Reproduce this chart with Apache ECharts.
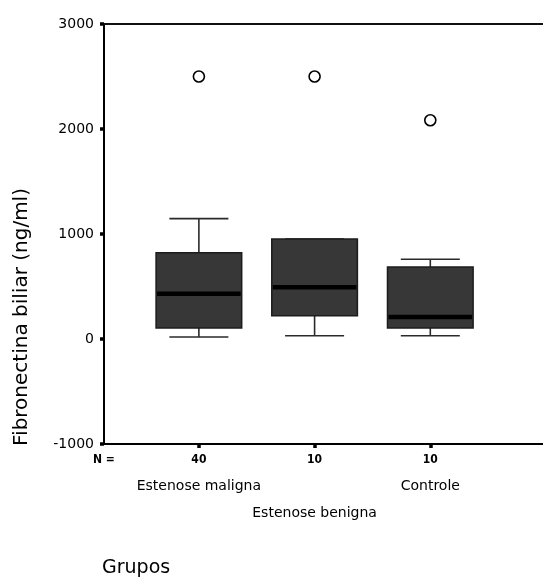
<!DOCTYPE html>
<html><head><meta charset="utf-8">
<script src="https://cdn.jsdelivr.net/npm/echarts@6/dist/echarts.min.js"></script>
<style>html,body{margin:0;padding:0;background:#fff}#c{width:543px;height:578px}</style>
</head><body><div id="c"></div>
<script>
// ---- data ----
const categories = ['Estenose maligna', 'Estenose benigna', 'Controle'];
const groupN = [40, 10, 10];
const boxMin = [19, 31, 31];
const boxQ1 = [105, 222, 105];
const boxMedian = [431, 492, 210];
const boxQ3 = [822, 952, 686];
const boxMax = [1146, 952, 759];
const outlierGroup = [1, 2, 3];
const outlierValue = [2500, 2500, 2083];
const yTicks = [-1000, 0, 1000, 2000, 3000];
const yTitle = 'Fibronectina biliar (ng/ml)';
const xTitle = 'Grupos';
const nPrefix = 'N =';

// ---- chart ----
const FONT = 'DejaVu Sans';
const X_MIN = 0.18, X_MAX = 3.974;
const BOX_W = 0.74, CAP_W = 0.51;

const boxData = categories.map((c, i) => [i + 1, boxMin[i], boxQ1[i], boxMedian[i], boxQ3[i], boxMax[i]]);
const outlierData = outlierGroup.map((g, i) => [g, outlierValue[i]]);

function renderBox(params, api) {
  const x = api.value(0);
  const pMin = api.coord([x, api.value(1)]);
  const pQ1 = api.coord([x, api.value(2)]);
  const pMed = api.coord([x, api.value(3)]);
  const pQ3 = api.coord([x, api.value(4)]);
  const pMax = api.coord([x, api.value(5)]);
  const bw = api.size([BOX_W, 0])[0];
  const cw = api.size([CAP_W, 0])[0];
  const cx = pMed[0];
  const wStyle = { stroke: '#2a2a2a', lineWidth: 1.6 };
  return {
    type: 'group',
    children: [
      { type: 'line', shape: { x1: cx, y1: pQ3[1], x2: cx, y2: pMax[1] }, style: wStyle },
      { type: 'line', shape: { x1: cx - cw / 2, y1: pMax[1], x2: cx + cw / 2, y2: pMax[1] }, style: wStyle },
      { type: 'line', shape: { x1: cx, y1: pQ1[1], x2: cx, y2: pMin[1] }, style: wStyle },
      { type: 'line', shape: { x1: cx - cw / 2, y1: pMin[1], x2: cx + cw / 2, y2: pMin[1] }, style: wStyle },
      { type: 'rect', shape: { x: cx - bw / 2, y: pQ3[1], width: bw, height: pQ1[1] - pQ3[1] },
        style: { fill: '#373737', stroke: '#1c1c1c', lineWidth: 1.5 } },
      { type: 'line', shape: { x1: cx - bw / 2 + 1, y1: pMed[1], x2: cx + bw / 2 - 1, y2: pMed[1] },
        style: { stroke: '#000', lineWidth: 4.5 } }
    ]
  };
}

const labelMap = {};
labelMap[1] = '{n|' + groupN[0] + '}\n{c|' + categories[0] + '}';
labelMap[2] = '{n|' + groupN[1] + '}\n{c| }\n{c|' + categories[1] + '}';
labelMap[3] = '{n|' + groupN[2] + '}\n{c|' + categories[2] + '}';

const chart = echarts.init(document.getElementById('c'), null, { renderer: 'canvas' });
chart.setOption({
  animation: false,
  backgroundColor: '#fff',
  grid: { left: 104, top: 24, right: 0, bottom: 134, show: false },
  xAxis: [{
    type: 'value', min: X_MIN, max: X_MAX, position: 'bottom',
    splitLine: { show: false },
    axisLine: { show: true, onZero: false, lineStyle: { color: '#000', width: 2 } },
    axisTick: { show: true, customValues: [1, 2, 3], length: 4, lineStyle: { color: '#000', width: 3.5 } },
    axisLabel: {
      customValues: [X_MIN, 1, 2, 3],
      margin: 3,
      verticalAlign: 'top',
      formatter: v => Math.abs(v - X_MIN) < 1e-6 ? '{n|' + nPrefix + '}' : (labelMap[Math.round(v)] || ''),
      rich: {
        n: { fontFamily: 'DejaVu Sans Condensed', fontWeight: 'bold', fontSize: 12, color: '#000', lineHeight: 26 },
        c: { fontFamily: FONT, fontSize: 14, color: '#000', lineHeight: 27 }
      }
    }
  }, {
    type: 'value', min: X_MIN, max: X_MAX, position: 'top',
    splitLine: { show: false },
    axisLine: { show: true, onZero: false, lineStyle: { color: '#111', width: 2 } },
    axisTick: { show: false },
    axisLabel: { show: false }
  }],
  yAxis: {
    type: 'value', min: -1000, max: 3000, interval: 1000,
    splitLine: { show: false },
    axisLine: { show: true, onZero: false, lineStyle: { color: '#000', width: 2 } },
    axisTick: { show: true, length: 4, lineStyle: { color: '#000', width: 3.5 } },
    axisLabel: { margin: 10, fontFamily: FONT, fontSize: 14, color: '#000',
      formatter: v => yTicks.includes(v) ? String(v) : '' }
  },
  graphic: [
    { type: 'text', x: 22, y: 317, rotation: Math.PI / 2,
      style: { text: yTitle, fontFamily: FONT, fontSize: 20, fill: '#000', align: 'center', verticalAlign: 'middle' } },
    { type: 'text', x: 102, y: 568,
      style: { text: xTitle, fontFamily: FONT, fontSize: 19, fill: '#000', align: 'left', verticalAlign: 'middle' } }
  ],
  series: [
    { type: 'custom', renderItem: renderBox, data: boxData, encode: { x: 0, y: [1, 2, 3, 4, 5] }, clip: false, z: 2 },
    { type: 'scatter', data: outlierData, symbol: 'circle', symbolSize: 11,
      itemStyle: { color: '#fff', borderColor: '#000', borderWidth: 1.6, opacity: 1 }, z: 3 }
  ]
});
</script>
</body></html>
